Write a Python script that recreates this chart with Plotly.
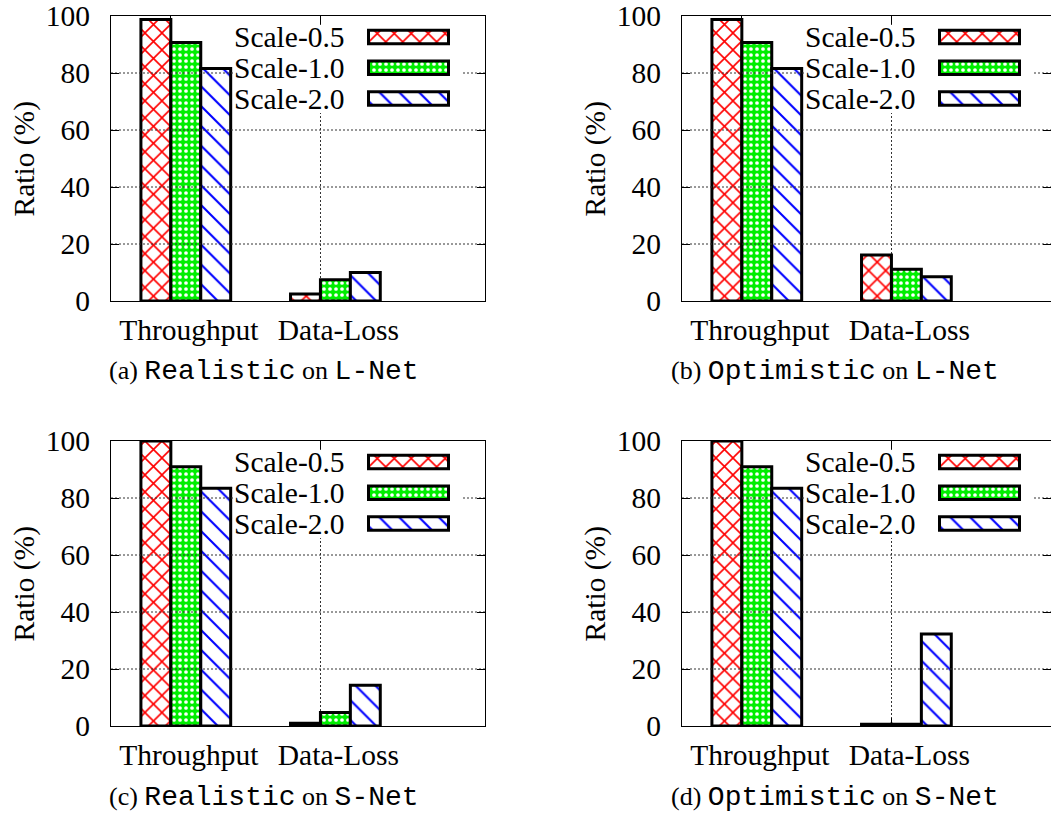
import plotly.graph_objects as go

W, H = 1051, 820

categories = ["Throughput", "Data-Loss"]
series_names = ["Scale-0.5", "Scale-1.0", "Scale-2.0"]
panel_letters = ["a", "b", "c", "d"]
policies = ["Realistic", "Optimistic", "Realistic", "Optimistic"]
networks = ["L-Net", "L-Net", "S-Net", "S-Net"]

# values per panel: [Throughput, Data-Loss] for each scale
a_s05 = [98.8, 2.5]
a_s10 = [90.7, 7.5]
a_s20 = [81.6, 10.0]
b_s05 = [98.8, 16.1]
b_s10 = [90.7, 11.1]
b_s20 = [81.6, 8.5]
c_s05 = [100.0, 1.0]
c_s10 = [91.0, 4.7]
c_s20 = [83.4, 14.3]
d_s05 = [100.0, 0.6]
d_s10 = [91.0, 0.6]
d_s20 = [83.4, 32.3]
panels = [
    [a_s05, a_s10, a_s20],
    [b_s05, b_s10, b_s20],
    [c_s05, c_s10, c_s20],
    [d_s05, d_s10, d_s20],
]

y_ticks = [0, 20, 40, 60, 80, 100]

# styles
pat_shapes = ["x", ".", "\\"]
pat_fg = ["#ff0000", "#ffffff", "#0000ff"]
pat_bg = ["#ffffff", "#00ee00", "#ffffff"]
pat_size = [12, 6, 14]
pat_sol = [0.25, 0.3, 0.15]

SERIF = "Liberation Serif"
MONO = "Liberation Mono"
FS = 29.5
GRID_COLOR = "#333333"
GRID_DASH = "2px,2px"

# frame geometry in px
lefts = [111, 682, 111, 682]
rights = [485, 1051, 485, 1051]
tops = [16, 16, 441, 441]
bottoms = [301, 301, 726, 726]
UNIT = 149.6  # px per category unit


def px_x(v):
    return v / W


def px_y(v):
    return (H - v) / H


def style(s):
    return dict(color=pat_bg[s],
                line=dict(color="black", width=3),
                pattern=dict(shape=pat_shapes[s], fgcolor=pat_fg[s], bgcolor=pat_bg[s],
                             size=pat_size[s], solidity=pat_sol[s], fillmode="replace"))


fig = go.Figure()
layout = dict(
    template="none",
    width=W, height=H,
    margin=dict(l=0, r=0, t=0, b=0, autoexpand=False),
    paper_bgcolor="white", plot_bgcolor="white",
    barmode="group", bargap=0.4, bargroupgap=0.0,
    font=dict(family=SERIF, size=FS, color="black"),
    showlegend=False,
)
annotations = []

# key box geometry (px offsets from the frame's top-left)
KEY_X0, KEY_X1 = 122, 352
KEY_Y0, KEY_Y1 = 9, 97
ROW0, PITCH = 21, 30.75
SW_X0, SW_X1 = 257.5, 337.5
TXT_RIGHT = 236

for k in range(4):
    i = k + 1
    xa = "x" if i == 1 else f"x{i}"
    ya = "y" if i == 1 else f"y{i}"
    l, r, t, b = lefts[k], rights[k], tops[k], bottoms[k]
    xr = [-0.5, -0.5 + (r - l) / UNIT]

    # horizontal dotted grid at the inner y ticks (drawn under the bars)
    gx, gy = [], []
    for v in y_ticks[1:-1]:
        gx += [xr[0], xr[1], None]
        gy += [v, v, None]
    fig.add_trace(go.Scatter(
        x=gx, y=gy, mode="lines", xaxis=xa, yaxis=ya,
        line=dict(color=GRID_COLOR, width=1, dash=GRID_DASH),
        showlegend=False, hoverinfo="skip", connectgaps=False,
    ))

    for s in range(3):
        fig.add_trace(go.Bar(
            x=[0, 1], y=panels[k][s], xaxis=xa, yaxis=ya, name=series_names[s],
            marker=style(s), showlegend=False, hoverinfo="skip",
        ))
    layout[f"xaxis{i}"] = dict(
        domain=[px_x(l), px_x(r)], anchor=ya, automargin=False,
        range=xr,
        tickmode="array", tickvals=[-0.1, 0.9], ticktext=categories,
        ticklabelshift=18, ticklabelstandoff=3, ticklabeloverflow="allow",
        ticks="inside", ticklen=8, tickcolor="black", tickwidth=1,
        showline=True, linecolor="black", linewidth=1, mirror="ticks",
        showgrid=True, gridcolor=GRID_COLOR, griddash=GRID_DASH, gridwidth=1,
        zeroline=False, tickfont=dict(family=SERIF, size=FS),
    )
    layout[f"yaxis{i}"] = dict(
        domain=[px_y(b), px_y(t)], anchor=xa, automargin=False,
        range=[0, 100], tickmode="array", tickvals=y_ticks,
        ticks="inside", ticklen=8, tickcolor="black", tickwidth=1,
        ticklabelstandoff=14, ticklabeloverflow="allow",
        showline=True, linecolor="black", linewidth=1, mirror="ticks",
        showgrid=False,
        zeroline=False, tickfont=dict(family=SERIF, size=FS),
    )

    # key subplot (white box + swatches + labels)
    j = i + 4
    kx, ky = f"x{j}", f"y{j}"
    kw = KEY_X1 - KEY_X0
    fig.add_trace(go.Bar(
        y=series_names, x=[1, 1, 1], base=0, orientation="h", width=1.0,
        offsetgroup="key", xaxis=kx, yaxis=ky,
        marker=dict(color="white", line=dict(width=0)),
        showlegend=False, hoverinfo="skip",
    ))
    for s in range(3):
        fig.add_trace(go.Bar(
            y=[series_names[s]], x=[(SW_X1 - SW_X0) / kw], base=(SW_X0 - KEY_X0) / kw,
            orientation="h", width=0.44, offsetgroup="key",
            xaxis=kx, yaxis=ky, marker=style(s),
            showlegend=False, hoverinfo="skip",
        ))
        annotations.append(dict(
            text=series_names[s], xref=kx, yref=ky,
            x=(TXT_RIGHT - KEY_X0) / kw, y=series_names[s],
            xanchor="right", yanchor="middle", showarrow=False,
            font=dict(family=SERIF, size=FS),
        ))
    layout[f"xaxis{j}"] = dict(
        domain=[px_x(l + KEY_X0), px_x(l + KEY_X1)], anchor=ky, automargin=False,
        range=[0, 1], visible=False, fixedrange=True,
    )
    layout[f"yaxis{j}"] = dict(
        domain=[px_y(t + KEY_Y1), px_y(t + KEY_Y0)], anchor=kx, automargin=False,
        type="category", categoryorder="array", categoryarray=series_names,
        range=[(KEY_Y1 - ROW0) / PITCH, (KEY_Y0 - ROW0) / PITCH],
        visible=False, fixedrange=True,
    )

    # y title
    annotations.append(dict(
        text="Ratio (%)", xref="paper", yref="paper",
        x=px_x(l - 87), y=px_y((t + b) / 2), xanchor="center", yanchor="middle",
        textangle=-90, showarrow=False, font=dict(family=SERIF, size=FS),
    ))
    # caption
    cap = (f"({panel_letters[k]}) <span style='font-family:{MONO};font-size:28px'>{policies[k]}</span>"
           f" on <span style='font-family:{MONO};font-size:28px'>{networks[k]}</span>")
    annotations.append(dict(
        text=cap, xref="paper", yref="paper",
        x=px_x(l + 153), y=px_y(b + 71), xanchor="center", yanchor="middle",
        showarrow=False, font=dict(family=SERIF, size=26),
    ))

layout["annotations"] = annotations
fig.update_layout(**layout)
fig.write_html("out.html")
